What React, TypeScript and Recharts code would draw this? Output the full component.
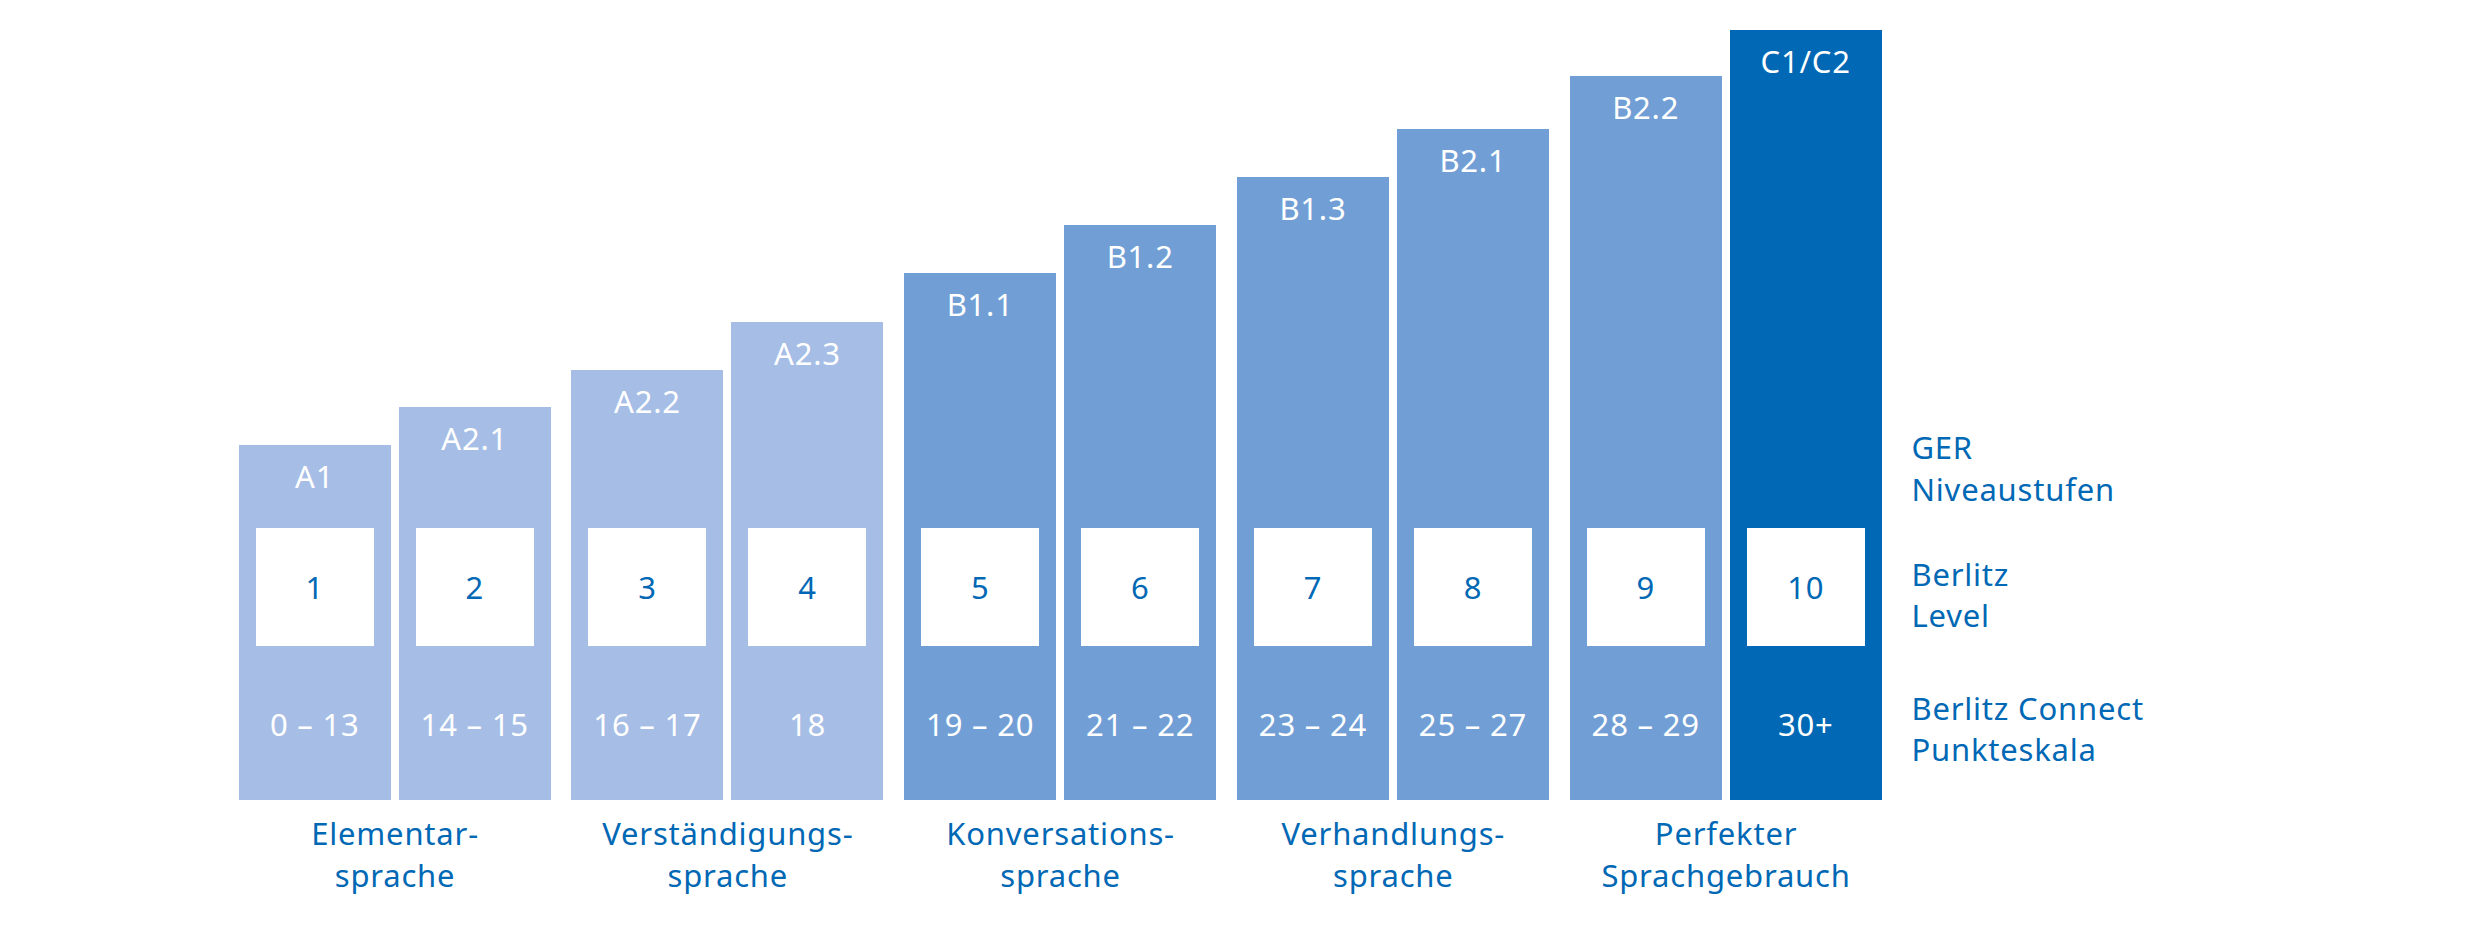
import React from "react";
import { BarChart, Bar, XAxis, YAxis, Cell, LabelList } from "recharts";

// ---- data ----
const groupLabels: string[][] = [
  ["Elementar-", "sprache"],
  ["Verständigungs-", "sprache"],
  ["Konversations-", "sprache"],
  ["Verhandlungs-", "sprache"],
  ["Perfekter", "Sprachgebrauch"],
];
const gerLevels = ["A1", "A2.1", "A2.2", "A2.3", "B1.1", "B1.2", "B1.3", "B2.1", "B2.2", "C1/C2"];
const berlitzLevels = ["1", "2", "3", "4", "5", "6", "7", "8", "9", "10"];
const scoreRanges = ["0 – 13", "14 – 15", "16 – 17", "18", "19 – 20", "21 – 22", "23 – 24", "25 – 27", "28 – 29", "30+"];
const barHeights = [46.0, 50.9, 55.8, 62.0, 68.4, 74.6, 80.8, 87.1, 93.9, 100];
const scoreBand = 20;
const levelBand = 15.3;
const rowLabels: string[][] = [
  ["GER", "Niveaustufen"],
  ["Berlitz", "Level"],
  ["Berlitz Connect", "Punkteskala"],
];
const rowTicks = [43.05, 26.6, 9.2];

// ---- styles ----
const LIGHT = "#A6BEE5";
const MID = "#719FD5";
const DARK = "#0068B4";
const TEXT = "#0068B4";
const levelColors = [LIGHT, LIGHT, LIGHT, LIGHT, MID, MID, MID, MID, MID, DARK];
const FONT = "'Noto Sans', sans-serif";
const FS = 31;
const LS = 0.8;

const slots = ["a", "b"];

const data = groupLabels.map((g, i) => {
  const row: any = { group: g.join(" ") };
  slots.forEach((s, k) => {
    const idx = 2 * i + k;
    row[s + "Base"] = scoreBand;
    row[s + "Box"] = levelBand;
    row[s + "Top"] = barHeights[idx] - scoreBand - levelBand;
    row[s + "Ger"] = gerLevels[idx];
    row[s + "Level"] = berlitzLevels[idx];
    row[s + "Score"] = scoreRanges[idx];
  });
  return row;
});

const whiteText = (dy: number) => (props: any) => {
  const { x, y, width, value } = props;
  return (
    <text
      x={Number(x) + Number(width) / 2}
      y={Number(y) + dy}
      textAnchor="middle"
      fill="#fff"
      fontSize={FS}
      fontFamily={FONT}
      letterSpacing={LS}
    >
      {value}
    </text>
  );
};

const levelText = (props: any) => {
  const { x, y, width, height, value } = props;
  return (
    <text
      x={Number(x) + Number(width) / 2}
      y={Number(y) + Number(height) / 2 + 12.4}
      textAnchor="middle"
      fill={TEXT}
      fontSize={FS}
      fontFamily={FONT}
      letterSpacing={LS}
    >
      {value}
    </text>
  );
};

const SegShape = (props: any) => {
  const { x, y, width, height, fill } = props;
  return (
    <rect x={x} y={y - 0.5} width={width} height={height + 1} fill={fill} shapeRendering="crispEdges" />
  );
};

const BoxShape = (props: any) => {
  const { x, y, width, height, fill } = props;
  const inset = 17;
  return (
    <g shapeRendering="crispEdges">
      <rect x={x} y={y - 0.5} width={width} height={height + 1} fill={fill} />
      <rect x={x + inset} y={y} width={width - 2 * inset} height={height} fill="#fff" />
    </g>
  );
};

const XTick = (props: any) => {
  const { x, y, index } = props;
  const lines = groupLabels[index] || [];
  return (
    <text textAnchor="middle" fill={TEXT} fontSize={FS} fontFamily={FONT} letterSpacing={LS}>
      {lines.map((l, i) => (
        <tspan key={i} x={x} y={y + 45.3 + i * 41.7}>
          {l}
        </tspan>
      ))}
    </text>
  );
};

const YTick = (props: any) => {
  const { x, y, index } = props;
  const lines = rowLabels[index] || [];
  return (
    <text textAnchor="start" fill={TEXT} fontSize={FS} fontFamily={FONT} letterSpacing={LS}>
      {lines.map((l, i) => (
        <tspan key={i} x={x + 19} y={y - 9.2 + i * 41.5}>
          {l}
        </tspan>
      ))}
    </text>
  );
};

export default function App() {
  return (
    <div style={{ width: 2464, height: 935 }}>
      <BarChart
        width={2464}
        height={935}
        data={data}
        margin={{ top: 22, right: 179.55, bottom: 33.3, left: 220.7 }}
        barSize={152}
        barGap={8}
      >
        <XAxis
          dataKey="group"
          interval={0}
          axisLine={false}
          tickLine={false}
          tickSize={0}
          tickMargin={0}
          height={110}
          tick={<XTick />}
        />
        <YAxis
          orientation="right"
          type="number"
          domain={[0, 100]}
          ticks={rowTicks}
          axisLine={false}
          tickLine={false}
          tickSize={0}
          tickMargin={0}
          width={400}
          tick={<YTick />}
        />
        {slots.map((s, k) => [
          <Bar key={s + "Base"} dataKey={s + "Base"} stackId={s} isAnimationActive={false} shape={<SegShape />}>
            {data.map((_, i) => (
              <Cell key={i} fill={levelColors[2 * i + k]} />
            ))}
            <LabelList dataKey={s + "Score"} content={whiteText(90.3)} />
          </Bar>,
          <Bar key={s + "Box"} dataKey={s + "Box"} stackId={s} isAnimationActive={false} shape={<BoxShape />}>
            {data.map((_, i) => (
              <Cell key={i} fill={levelColors[2 * i + k]} />
            ))}
            <LabelList dataKey={s + "Level"} content={levelText} />
          </Bar>,
          <Bar key={s + "Top"} dataKey={s + "Top"} stackId={s} isAnimationActive={false} shape={<SegShape />}>
            {data.map((_, i) => (
              <Cell key={i} fill={levelColors[2 * i + k]} />
            ))}
            <LabelList dataKey={s + "Ger"} content={whiteText(42.5)} />
          </Bar>,
        ])}
      </BarChart>
    </div>
  );
}
